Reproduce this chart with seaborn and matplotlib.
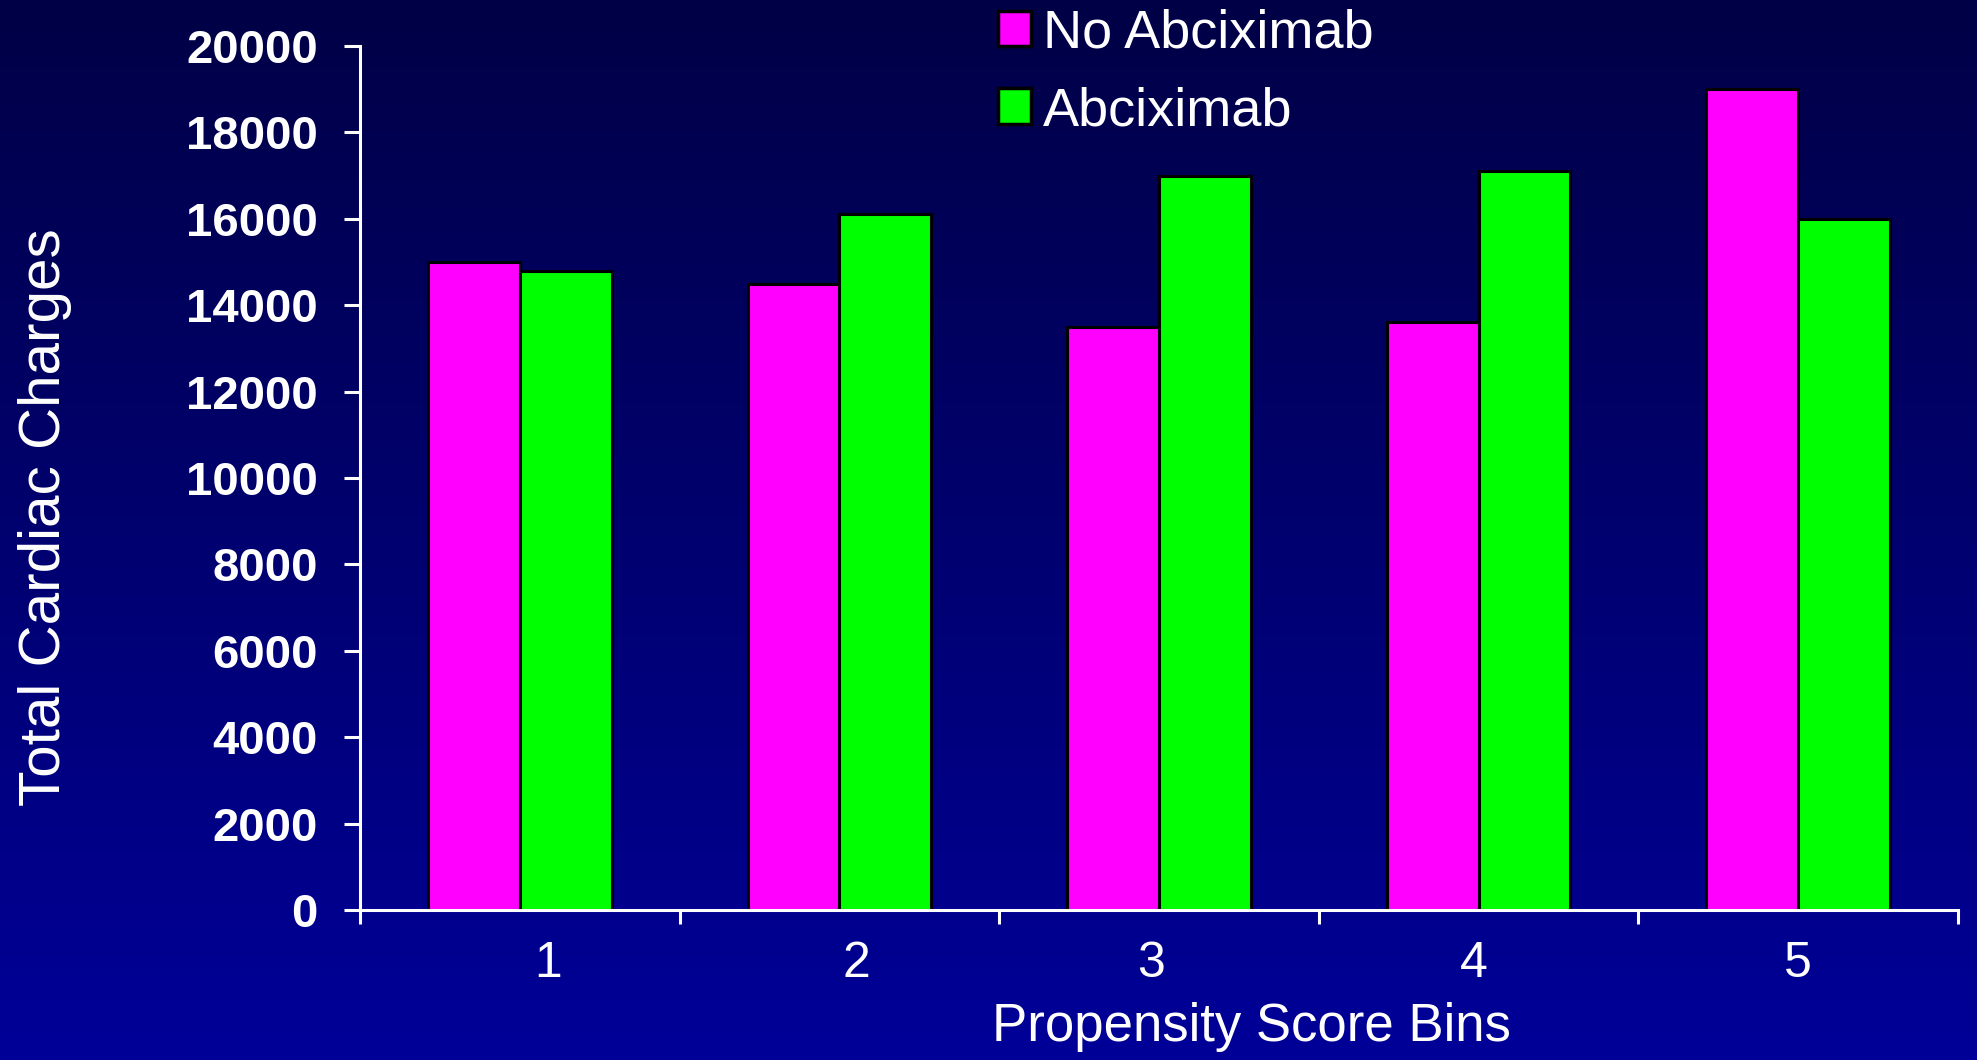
import numpy as np
import pandas as pd
import matplotlib
matplotlib.use("Agg")
import matplotlib.pyplot as plt
import seaborn as sns

# Mean total cardiac charges per propensity score bin
bins = ["1", "2", "3", "4", "5"]
no_abciximab = [15000, 14500, 13500, 13600, 19000]
abciximab = [14800, 16100, 17000, 17100, 16000]
groups = ["No Abciximab", "Abciximab"]
colors = ["#FF00FF", "#00FF00"]
yticks = [0, 2000, 4000, 6000, 8000, 10000, 12000, 14000, 16000, 18000, 20000]

df = pd.DataFrame({
    "bin": bins * 2,
    "charges": no_abciximab + abciximab,
    "group": [groups[0]] * len(bins) + [groups[1]] * len(bins),
})

sns.set_theme(style="white")
plt.rcParams["font.family"] = ["Liberation Sans", "DejaVu Sans"]

W, H = 1977, 1060
fig = plt.figure(figsize=(W / 100, H / 100), dpi=100)

# vertical navy gradient background
bg = fig.add_axes([0, 0, 1, 1], zorder=0)
grad = np.linspace(0, 1, 256)[:, None]
top = np.array([0, 0, 70]) / 255
bottom = np.array([0, 0, 152]) / 255
img = top[None, None, :] * (1 - grad[:, :, None]) + bottom[None, None, :] * grad[:, :, None]
bg.imshow(img, aspect="auto", extent=[0, 1, 0, 1])
bg.set_axis_off()

ax = fig.add_axes([360 / W, 1 - 910 / H, (1958 - 360) / W, (910 - 46) / H], zorder=1)
ax.set_facecolor("none")

sns.barplot(data=df, x="bin", y="charges", hue="group", hue_order=groups,
            palette=colors, width=0.575, edgecolor="black", linewidth=2.2,
            saturation=1, ax=ax)

ax.set_ylim(0, 20000)
ax.set_xlim(-0.5, 4.5)
ax.set_yticks(yticks)
ax.set_yticklabels([str(v) for v in yticks], fontsize=34, fontweight="bold", color="white")

# category labels sit slightly off-centre within each bin (offsets in category units)
label_offsets = [0.09, 0.053, -0.025, -0.016, 0.0]
ax.set_xticks([i + d for i, d in enumerate(label_offsets)])
ax.set_xticklabels(bins, fontsize=36, color="white")
ax.set_xticks(np.arange(-0.5, len(bins), 1.0), minor=True)

for s in ["top", "right"]:
    ax.spines[s].set_visible(False)
for s in ["left", "bottom"]:
    ax.spines[s].set_color("white")
    ax.spines[s].set_linewidth(2.2)

ax.tick_params(axis="y", which="major", left=True, length=11.5, width=2.2,
               color="white", pad=19, direction="out")
ax.tick_params(axis="x", which="major", bottom=False, length=0, pad=22.5)
ax.tick_params(axis="x", which="minor", bottom=True, length=10, width=2.2,
               color="white", direction="out")

ax.set_xlabel("Propensity Score Bins", fontsize=38, color="white")
ax.xaxis.set_label_coords(0.558, -0.107)
ax.set_ylabel("Total Cardiac Charges", fontsize=42, color="white")
ax.yaxis.set_label_coords(-0.18, 0.455)

handles, labels = ax.get_legend_handles_labels()
ax.get_legend().remove()
leg = fig.legend(handles, labels, loc="upper left",
                 bbox_to_anchor=(997.5 / W, 1 - 9 / H), frameon=False,
                 fontsize=39, handlelength=0.62, handleheight=0.62,
                 handletextpad=0.22, labelspacing=0.5, borderpad=0,
                 borderaxespad=0)
for t in leg.get_texts():
    t.set_color("white")
for p in leg.get_patches():
    p.set_edgecolor("black")
    p.set_linewidth(2.5)

fig.savefig("out.png", dpi=100)
